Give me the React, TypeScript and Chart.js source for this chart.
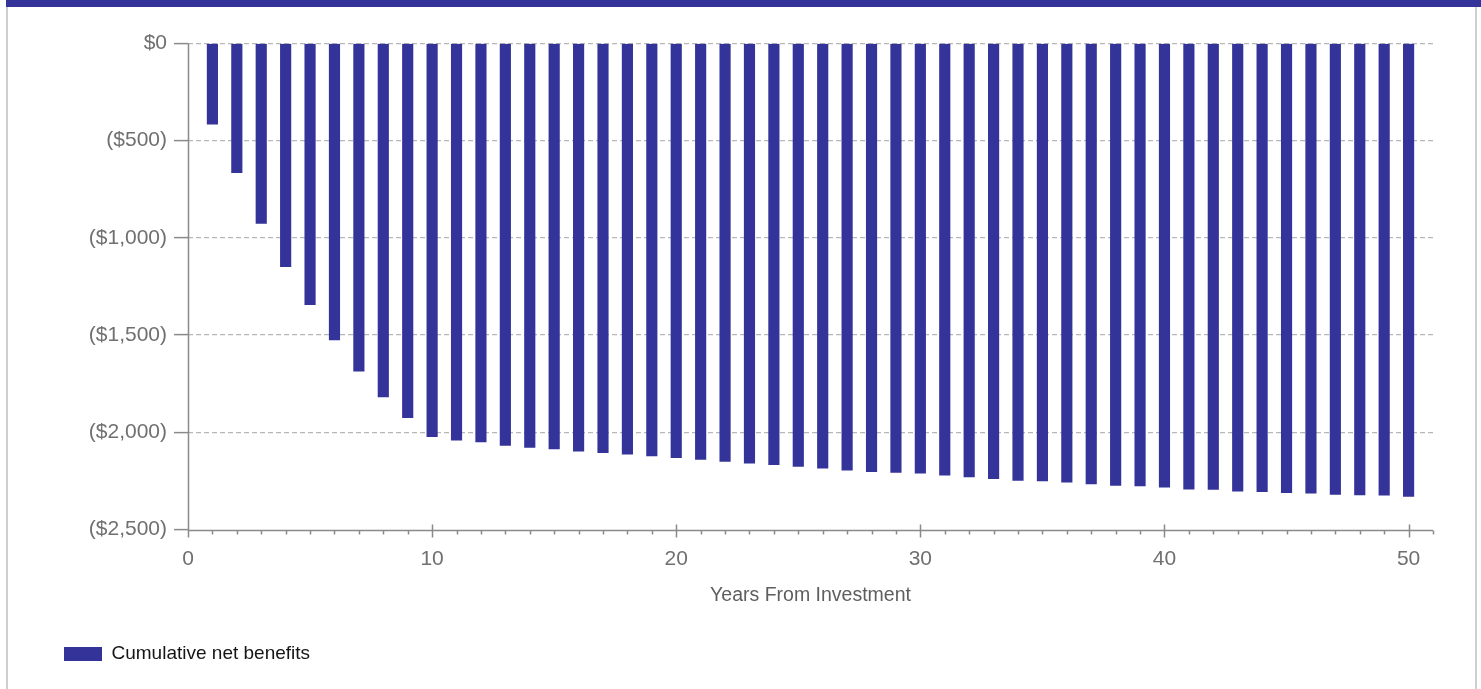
import React, { useEffect, useRef } from "react";
import { Chart, registerables } from "chart.js";

Chart.register(...registerables);

const years: number[] = [
  1, 2, 3, 4, 5, 6, 7, 8, 9, 10,
  11, 12, 13, 14, 15, 16, 17, 18, 19, 20,
  21, 22, 23, 24, 25, 26, 27, 28, 29, 30,
  31, 32, 33, 34, 35, 36, 37, 38, 39, 40,
  41, 42, 43, 44, 45, 46, 47, 48, 49, 50,
];

const cumulativeNetBenefits: number[] = [
  -415, -665, -925, -1148, -1343, -1525, -1685, -1818, -1925, -2022,
  -2041, -2050, -2067, -2078, -2086, -2097, -2105, -2112, -2122, -2131,
  -2140, -2150, -2159, -2167, -2176, -2184, -2195, -2203, -2206, -2210,
  -2220, -2230, -2239, -2247, -2250, -2256, -2265, -2273, -2276, -2282,
  -2292, -2294, -2303, -2305, -2311, -2313, -2320, -2322, -2324, -2330,
];

const yTickValues: number[] = [0, -500, -1000, -1500, -2000, -2500];
const xMajorTicks: number[] = [0, 10, 20, 30, 40, 50];
const xMax = 51;
const seriesLabel = "Cumulative net benefits";
const xTitle = "Years From Investment";

const FONT = "'Liberation Sans', Arial, sans-serif";
const BAR_COLOR = "#333399";
const AXIS_COLOR = "#8a8a8a";
const Y_MIN = yTickValues[yTickValues.length - 1];

function formatMoney(v: number): string {
  if (v === 0) return "$0";
  const s = "$" + Math.abs(v).toLocaleString("en-US");
  return v < 0 ? "(" + s + ")" : s;
}

const axesPlugin = {
  id: "axesLines",
  afterDatasetsDraw(chart: any) {
    const { ctx, chartArea, scales } = chart;
    const x = scales.x;
    const y = scales.y;
    const yb = Math.round(y.getPixelForValue(Y_MIN)) + 0.5;
    const x0 = Math.round(x.getPixelForValue(0)) + 0.5;
    ctx.save();
    ctx.setLineDash([]);
    ctx.strokeStyle = AXIS_COLOR;
    ctx.lineWidth = 1.5;
    ctx.beginPath();
    ctx.moveTo(x0, chartArea.top);
    ctx.lineTo(x0, yb);
    ctx.moveTo(x0, yb);
    ctx.lineTo(chartArea.right, yb);
    for (let i = 0; i <= xMax; i++) {
      const px = Math.round(x.getPixelForValue(i)) + 0.5;
      if (xMajorTicks.includes(i)) {
        ctx.moveTo(px, yb - 6);
        ctx.lineTo(px, yb + 7);
      } else {
        ctx.moveTo(px, yb);
        ctx.lineTo(px, yb + 4);
      }
    }
    ctx.stroke();
    ctx.restore();
  },
};

export default function App() {
  const canvasRef = useRef<HTMLCanvasElement | null>(null);

  useEffect(() => {
    document.body.style.margin = "0";
    document.body.style.overflow = "hidden";
    const canvas = canvasRef.current;
    if (!canvas) return;

    const chart = new Chart(canvas, {
      type: "bar",
      data: {
        datasets: [
          {
            label: seriesLabel,
            data: years.map((yr, i) => ({ x: yr, y: cumulativeNetBenefits[i] })),
            backgroundColor: BAR_COLOR,
            borderWidth: 0,
            barThickness: 10.5,
          },
        ],
      },
      plugins: [axesPlugin],
      options: {
        animation: false,
        responsive: false,
        events: [],
        layout: {
          padding: { left: 54, top: 43.5, right: 48, bottom: 15.5 },
        },
        plugins: {
          tooltip: { enabled: false },
          legend: {
            display: true,
            position: "bottom",
            align: "start",
            labels: {
              boxWidth: 38,
              boxHeight: 14,
              padding: 10,
              color: "#151515",
              font: { family: FONT, size: 19 },
            },
          },
        },
        scales: {
          x: {
            type: "linear",
            min: 0,
            max: xMax,
            offset: false,
            afterBuildTicks: (scale: any) => {
              scale.ticks = xMajorTicks.map((v) => ({ value: v }));
            },
            afterFit: (scale: any) => {
              scale.height = 105;
            },
            grid: { display: false, drawTicks: false, offset: false },
            border: { display: false },
            ticks: {
              color: "#707070",
              padding: 17,
              maxRotation: 0,
              autoSkip: false,
              font: { family: FONT, size: 21 },
              callback: (v: any) => String(v),
            },
            title: {
              display: true,
              text: xTitle,
              color: "#5e5e5e",
              font: { family: FONT, size: 19.5 },
              padding: { top: 4, bottom: 27 },
            },
          },
          y: {
            type: "linear",
            min: Y_MIN,
            max: yTickValues[0],
            afterBuildTicks: (scale: any) => {
              scale.ticks = yTickValues.map((v) => ({ value: v }));
            },
            afterFit: (scale: any) => {
              scale.width = 134;
            },
            grid: {
              display: true,
              drawOnChartArea: true,
              drawTicks: true,
              tickLength: 14,
              color: (c: any) => (c.tick && c.tick.value === Y_MIN ? "rgba(0,0,0,0)" : "#b8b8b8"),
              lineWidth: 1.2,
              tickColor: AXIS_COLOR,
              tickWidth: 1.5,
            },
            border: { display: false, dash: [5, 3] },
            ticks: {
              color: "#707070",
              padding: 7,
              font: { family: FONT, size: 21 },
              callback: (v: any) => formatMoney(Number(v)),
            },
          },
        },
      } as any,
    });

    return () => {
      chart.destroy();
    };
  }, []);

  return (
    <div style={{ position: "relative", width: 1481, height: 689, background: "#ffffff", overflow: "hidden" }}>
      <canvas
        ref={canvasRef}
        width={1481}
        height={689}
        style={{ position: "absolute", left: 0, top: 0, width: 1481, height: 689 }}
      />
      <div style={{ position: "absolute", left: 6, top: 0, width: 1475, height: 7, background: BAR_COLOR }} />
      <div style={{ position: "absolute", left: 6, top: 7, width: 2, height: 682, background: "#cfcfcf" }} />
      <div style={{ position: "absolute", left: 1475, top: 7, width: 2, height: 682, background: "#cfcfcf" }} />
    </div>
  );
}
